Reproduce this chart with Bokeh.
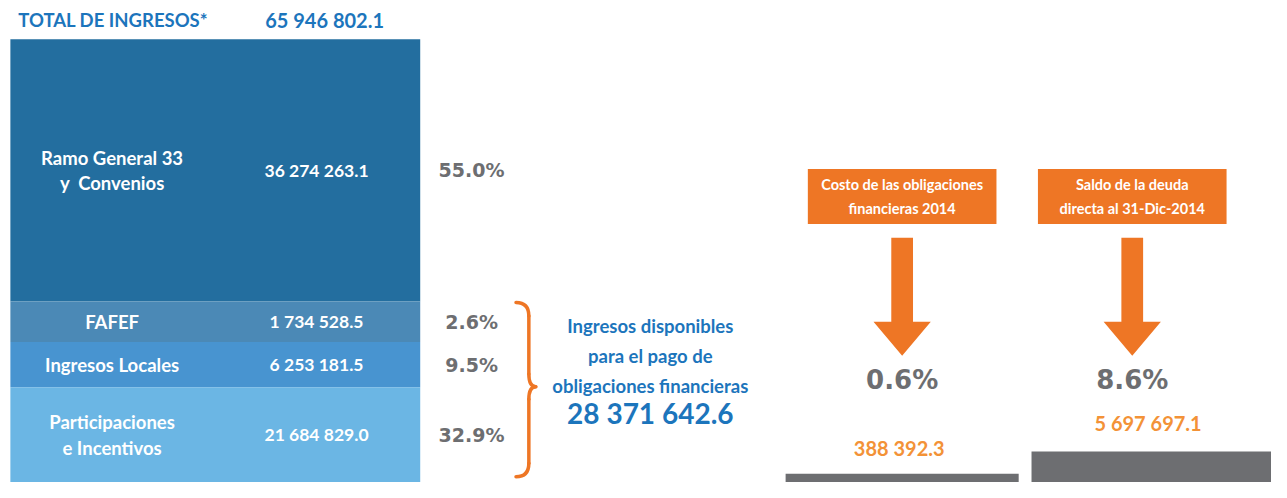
from bokeh.plotting import figure
from bokeh.models import Range1d
from bokeh.core.properties import value
from bokeh.embed import file_html
from bokeh.resources import INLINE

# ---------------- data ----------------
total_title = "TOTAL DE INGRESOS*"
categories = ["Ramo General 33\ny\u00a0 Convenios", "FAFEF", "Ingresos Locales", "Participaciones\ne Incentivos"]
amounts = [36274263.1, 1734528.5, 6253181.5, 21684829.0]
available_label = "Ingresos disponibles\npara el pago de\nobligaciones financieras"
available_amount = 28371642.6
debt_labels = ["Costo de las obligaciones\nfinancieras 2014", "Saldo de la deuda\ndirecta al 31-Dic-2014"]
debt_amounts = [388392.3, 5697697.1]

# ---------------- styles ----------------
seg_colors = ["#236e9f", "#4b89b6", "#4894d0", "#6bb6e4"]
BLUE_TXT = "#1c75bc"
GRAY = "#6d6e71"
ORANGE = "#ee7625"
ORANGE_TXT = "#f39237"
FONT = value("Lato")
PFONT = value("DejaVu Sans")


def fmt(v):
    return f"{v:,.1f}".replace(",", " ")


def pct(v, t):
    return f"{100 * v / t:.1f}%"


total = sum(amounts)

# ---------------- layout (reference pixel space 1287 x 498) ----------------
W, H = 1271, 482
RW, RH = 1287, 498
BAR_LEFT, BAR_RIGHT, BAR_TOP = 10, 425, 40
PX_PER_UNIT = 7.47e-6
MIN_BAND = 0.085          # minimum band share so that a label fits
LABEL_X, VALUE_X, PCT_X = 113, 320, 477

p = figure(width=W, height=H, output_backend="svg", toolbar_location=None,
           x_range=Range1d(0, RW), y_range=Range1d(RH, 0),
           x_axis_type=None, y_axis_type=None, min_border=0,
           outline_line_color=None, background_fill_color="white",
           border_fill_color="white")
p.grid.visible = False

amt_start = (RH - BAR_TOP) / PX_PER_UNIT
amt_end = (0 - BAR_TOP) / PX_PER_UNIT
p.extra_y_ranges = {"amt": Range1d(start=amt_start, end=amt_end)}

disp = [max(a, MIN_BAND * total) for a in amounts]
tops, bots = [], []
acc = 0.0
for d in disp:
    tops.append(acc)
    acc += d
    bots.append(acc)
mids = [(t + min(b, amt_start)) / 2 for t, b in zip(tops, bots)]

p.quad(left=BAR_LEFT, right=BAR_RIGHT, top=tops, bottom=bots, fill_color=seg_colors,
       line_color=None, y_range_name="amt")

p.text(x=[LABEL_X] * 4, y=mids, text=categories, y_range_name="amt",
       text_font=FONT, text_font_style="bold", text_font_size="18.5px",
       text_color="white", text_align="center", text_baseline="middle",
       text_line_height=1.15)
p.text(x=[VALUE_X] * 4, y=mids, text=[fmt(a) for a in amounts], y_range_name="amt",
       text_font=FONT, text_font_style="bold", text_font_size="17.5px",
       text_color="white", text_align="center", text_baseline="middle")
p.text(x=[PCT_X] * 4, y=mids, text=[pct(a, total) for a in amounts], y_range_name="amt",
       text_font=PFONT, text_font_style="bold", text_font_size="19px",
       text_color=GRAY, text_align="center", text_baseline="middle")

# title row
p.text(x=[18], y=[20], text=[total_title], text_font=FONT, text_font_style="bold",
       text_font_size="18.5px", text_color=BLUE_TXT, text_align="left", text_baseline="middle")
p.text(x=[268], y=[20], text=[fmt(total)], text_font=FONT, text_font_style="bold",
       text_font_size="20px", text_color=BLUE_TXT, text_align="left", text_baseline="middle")

# brace
bx0, bx1, bxt = 522, 535, 542
by0, bym, by1 = 312, 399, 492
p.quadratic(x0=[bx0, bx1, bxt, bx1], y0=[by0, bym - 13, bym, by1 - 14],
            x1=[bx1, bxt, bx1, bx0], y1=[by0 + 14, bym, bym + 13, by1],
            cx=[bx1, bx1, bx1, bx1], cy=[by0, bym, bym, by1],
            line_color=ORANGE, line_width=3.5, line_cap="round")
p.segment(x0=[bx1, bx1], y0=[by0 + 14, bym + 13], x1=[bx1, bx1], y1=[bym - 13, by1 - 14],
          line_color=ORANGE, line_width=3.5, line_cap="round")

# available
p.text(x=[658], y=[367], text=[available_label], text_font=FONT, text_font_style="bold",
       text_font_size="18.5px", text_color=BLUE_TXT, text_align="center",
       text_baseline="middle", text_line_height=1.36)
p.text(x=[658], y=[426], text=[fmt(available_amount)], text_font=FONT, text_font_style="bold",
       text_font_size="28px", text_color=BLUE_TXT, text_align="center", text_baseline="middle")

# callouts
cxs = [913, 1146]
p.quad(left=[c - 95.5 for c in cxs], right=[c + 95.5 for c in cxs], top=174, bottom=231,
       fill_color=ORANGE, line_color=None)
p.text(x=cxs, y=[202.5, 202.5], text=debt_labels, text_font=FONT, text_font_style="bold",
       text_font_size="14.5px", text_color="white", text_align="center",
       text_baseline="middle", text_line_height=1.4)
axs, ays = [], []
for c in cxs:
    axs.append([c - 11, c + 11, c + 11, c + 29, c, c - 29, c - 11])
    ays.append([245, 245, 332, 332, 367, 332, 332])
p.patches(xs=axs, ys=ays, fill_color=ORANGE, line_color=None)
p.text(x=cxs, y=[392, 392], text=[pct(a, total) for a in debt_amounts], text_font=PFONT,
       text_font_style="bold", text_font_size="26px", text_color=GRAY,
       text_align="center", text_baseline="middle")
p.text(x=[910, 1162], y=[462, 437], text=[fmt(a) for a in debt_amounts], text_font=FONT,
       text_font_style="bold", text_font_size="20px", text_color=ORANGE_TXT,
       text_align="center", text_baseline="middle")

# decorative gray blocks
p.quad(left=[795, 1044], right=[1031, 1287], top=[489, 466], bottom=[RH, RH],
       fill_color=GRAY, line_color=None)

open("out.html", "w").write(file_html(p, INLINE))
